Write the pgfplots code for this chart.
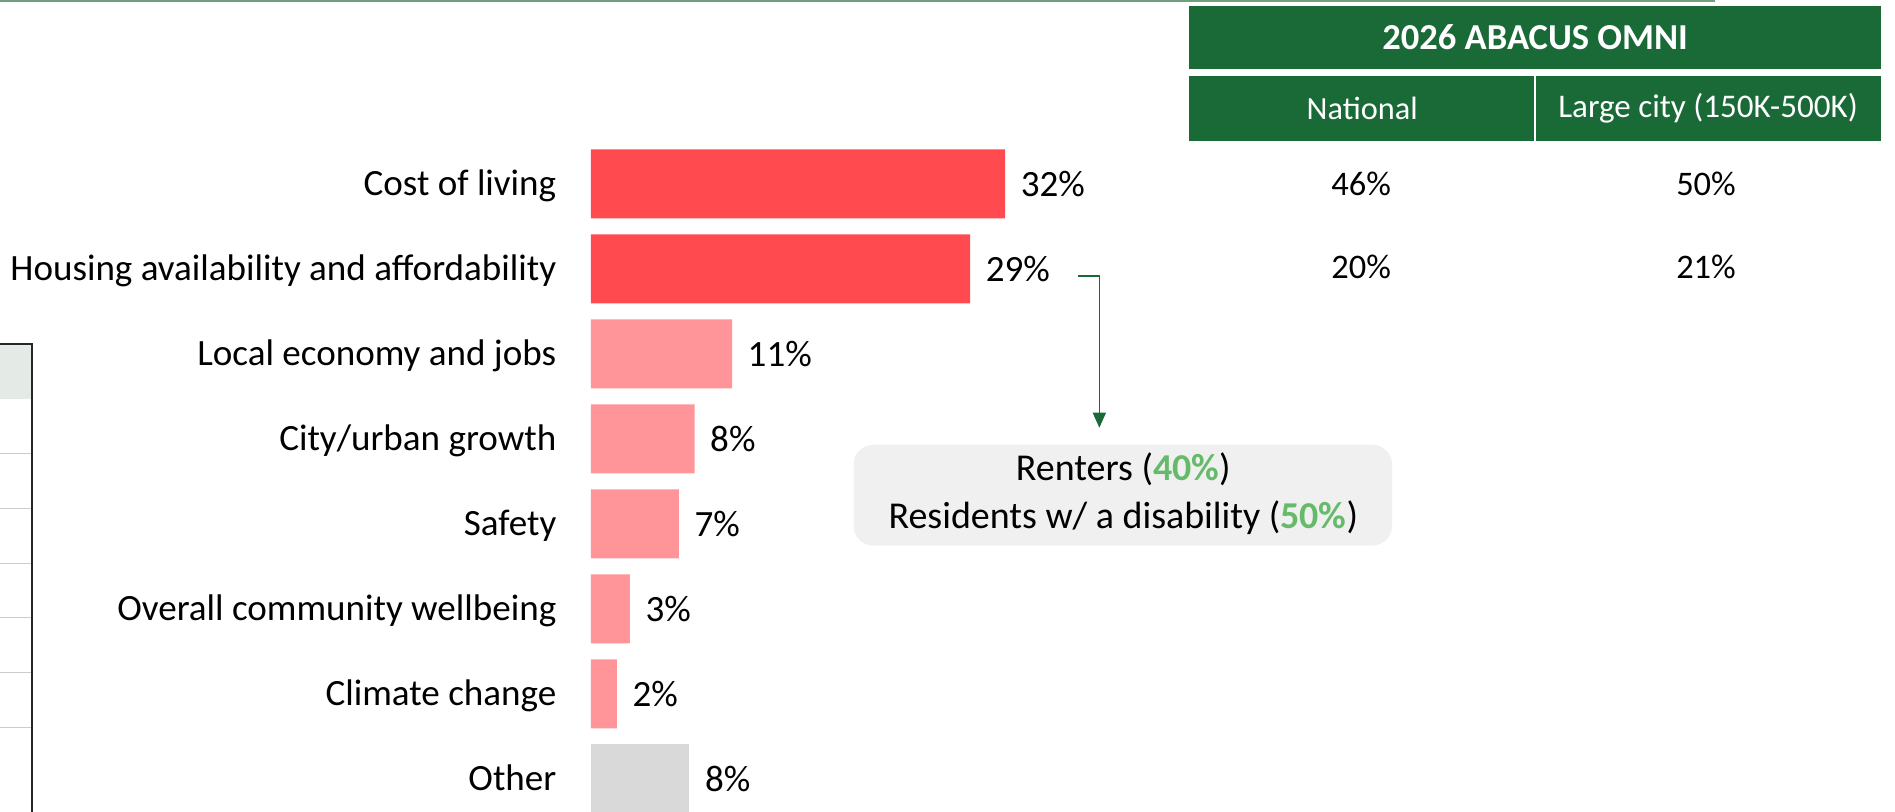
\documentclass[border=0pt]{standalone}
\usepackage{pgfplots}
\pgfplotsset{compat=1.18}
\usetikzlibrary{arrows.meta}
\usepackage{fontspec}
\setmainfont{Carlito}
\definecolor{barred}{RGB}{255,74,80}
\definecolor{barpink}{RGB}{255,149,152}
\definecolor{bargray}{RGB}{217,217,217}
\definecolor{hdrgreen}{RGB}{26,106,56}
\definecolor{hlgreen}{RGB}{102,187,106}
\definecolor{topline}{RGB}{110,160,125}
\definecolor{hdrfill}{RGB}{228,234,230}
\newcommand{\lblfont}{\fontsize{10.55}{13}\selectfont}
\begin{document}
\begin{tikzpicture}
\useasboundingbox (0,0) rectangle (18.95cm,-8.12cm);
\begin{scope}[x=0.01cm,y=-0.01cm]
  % top rule
  \draw[topline, line width=0.02cm] (0,1) -- (1716,1);
  % fragment of a table at the left edge
  \fill[hdrfill] (0,344) rectangle (32,399);
  \foreach \yy in {454,509,564,618,673,728} \draw[black!20, line width=0.015cm] (0,\yy) -- (32,\yy);
  \draw[black!85, line width=0.025cm] (0,344) -- (32,344) -- (32,815);
  % table header
  \fill[hdrgreen] (1190,6) rectangle (1882,69);
  \fill[hdrgreen] (1190,76) rectangle (1535,141);
  \fill[hdrgreen] (1537,76) rectangle (1882,141);
  \node[text=white, font=\fontsize{10.4}{12}\selectfont\bfseries, inner sep=0pt] at (1536,37.5) {2026 ABACUS OMNI};
  \node[text=white, font=\fontsize{9.2}{11}\selectfont, inner sep=0pt] at (1363,108.5) {National};
  \node[text=white, font=\fontsize{9.4}{11}\selectfont, inner sep=0pt] at (1709,108.5) {Large city (150K-500K)};
  % table values
  \node[font=\fontsize{9.8}{11}\selectfont, inner sep=0pt] at (1362,184) {46\%};
  \node[font=\fontsize{9.8}{11}\selectfont, inner sep=0pt] at (1707,184) {50\%};
  \node[font=\fontsize{9.8}{11}\selectfont, inner sep=0pt] at (1362,267) {20\%};
  \node[font=\fontsize{9.8}{11}\selectfont, inner sep=0pt] at (1707,267) {21\%};
  % callout
  \fill[black!6, rounded corners=0.2cm] (854,445) rectangle (1393,546);
  \draw[hdrgreen, line width=0.015cm, -{Triangle[width=0.13cm,length=0.15cm]}] (1079,276) -- (1100,276) -- (1100,428);
  \node[font=\fontsize{10.8}{13.9}\selectfont, align=center, inner sep=0pt] at (1124,494)
    {Renters ({\bfseries\color{hlgreen}40\%})\\Residents w/ a disability ({\bfseries\color{hlgreen}50\%})};
\end{scope}
\begin{axis}[
  at={(5.91cm,-1.415cm)}, anchor=north west,
  scale only axis, width=5.176cm, height=6.8cm,
  xmin=0, xmax=40, ymin=-0.5, ymax=7.5, y dir=reverse,
  xbar, bar width=0.69cm, bar shift=0pt,
  axis line style={draw=none}, tick style={draw=none},
  xtick=\empty, ytick={0,...,7},
  yticklabels={Cost of living, Housing availability and affordability, Local economy and jobs, City/urban growth, Safety, Overall community wellbeing, Climate change, Other},
  yticklabel style={anchor=base east, inner sep=0pt, xshift=-0.19cm, yshift=-0.12cm, font=\lblfont},
  point meta=explicit symbolic,
  nodes near coords={\pgfplotspointmeta\%},
  nodes near coords style={anchor=west, inner sep=0pt, xshift=0.15cm, font=\lblfont, text=black},
  clip=false,
]
\addplot[fill=barred, draw=none] coordinates {(32.0,0) [32] (29.3,1) [29]};
\addplot[fill=barpink, draw=none] coordinates {(10.9,2) [11] (8.0,3) [8] (6.8,4) [7] (3.0,5) [3] (2.0,6) [2]};
\addplot[fill=bargray, draw=none] coordinates {(7.6,7) [8]};
\end{axis}
\end{tikzpicture}
\end{document}
